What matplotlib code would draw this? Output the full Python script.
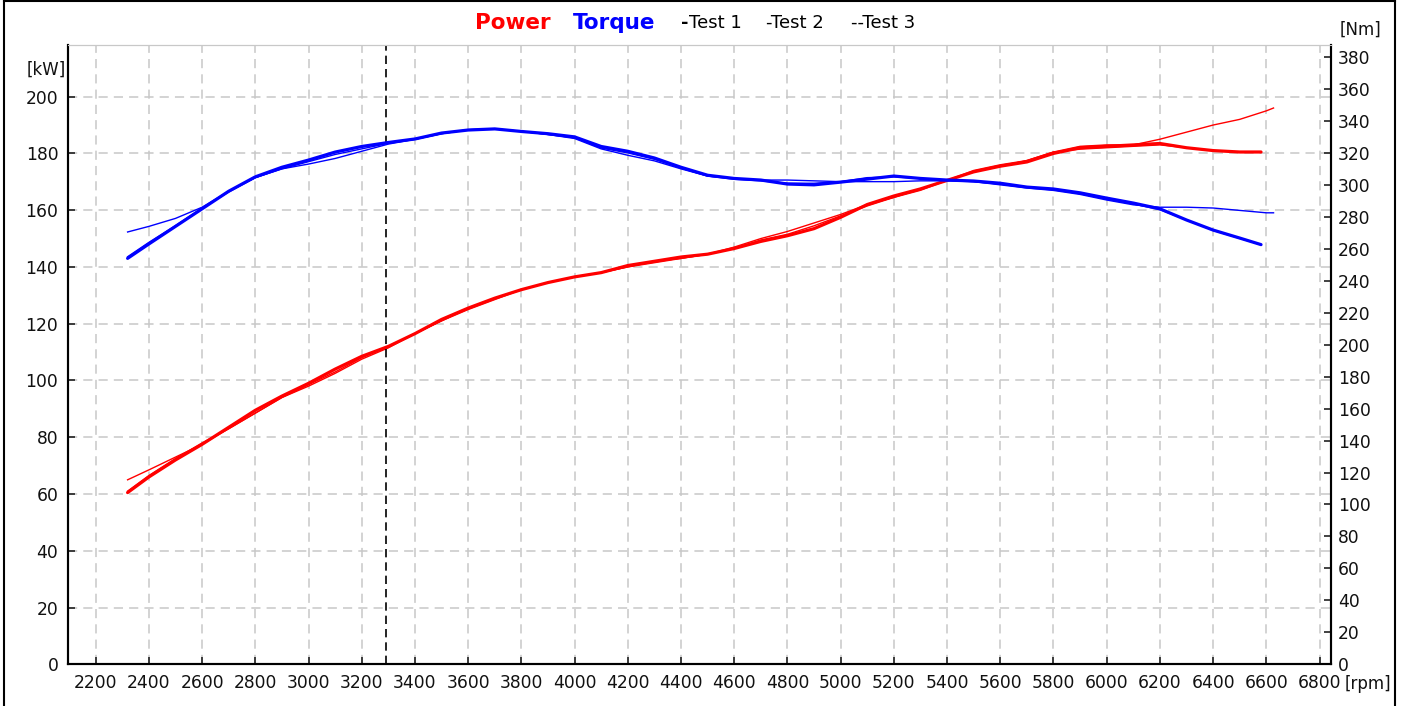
import matplotlib
matplotlib.use("Agg")
import matplotlib.pyplot as plt
from matplotlib.lines import Line2D

# ---------------- data ----------------
rpm_t1 = [2320, 2400, 2500, 2600, 2700, 2800, 2900, 3000, 3100, 3200, 3300, 3400, 3500,
          3600, 3700, 3800, 3900, 4000, 4100, 4200, 4300, 4400, 4500, 4600, 4700, 4800,
          4900, 5000, 5100, 5200, 5300, 5400, 5500, 5600, 5700, 5800, 5900, 6000, 6100,
          6200, 6300, 6400, 6500, 6580]
rpm_t2 = [2320, 2400, 2500, 2600, 2700, 2800, 2900, 3000, 3100, 3200, 3300, 3400, 3500,
          3600, 3700, 3800, 3900, 4000, 4100, 4200, 4300, 4400, 4500, 4600, 4700, 4800,
          4900, 5000, 5100, 5200, 5300, 5400, 5500, 5600, 5700, 5800, 5900, 6000, 6100,
          6200, 6300, 6400, 6500, 6600, 6627]
rpm_t3 = rpm_t1

power_t1 = [60.5, 66, 72, 77.5, 83.5, 89.5, 94.5, 99, 104, 108.5, 112, 116.5, 121.5,
            125.5, 129, 132, 134.5, 136.5, 138, 140.5, 142, 143.5, 144.5, 146.5, 149, 151,
            153.5, 157.5, 162, 165, 167.5, 170.5, 173.5, 175.5, 177, 180, 182, 182.5, 183,
            183.5, 182, 181, 180.5, 180.5]
power_t2 = [65, 68.5, 73, 77.5, 83, 88.5, 94, 98, 102.5, 107.5, 111.5, 116.5, 121,
            125.5, 129, 132, 134.5, 136.5, 138, 140, 141.5, 143, 144.5, 147, 150, 152.5,
            155.5, 158.5, 162, 164.5, 167, 170.5, 174, 176, 177.5, 180.5, 182.5, 183, 183,
            185, 187.5, 190, 192, 195, 196]
power_t3 = [61, 66.5, 72.5, 78, 83, 88.5, 94, 98.5, 103, 108, 112, 116.5, 121,
            125, 128.5, 132, 134.5, 136.5, 138, 140, 142, 143, 144.5, 146.5, 149.5, 151.5,
            154.5, 158, 161.5, 164.5, 167.5, 170.5, 173.5, 175.5, 177.5, 180.5, 181.5, 182, 182.5,
            183, 182, 181, 180.5, 180.5]

torque_t1 = [254, 263, 274, 285, 296, 305, 311, 315.5, 320.5, 324, 326.5, 328.7, 332.4,
             334.3, 335, 333.4, 332, 330, 324, 321, 316.8, 311, 306, 304, 303, 300.5,
             300, 301.7, 303.6, 305.5, 304, 303, 302.4, 301, 298.6, 297.4, 295, 291.7, 288.6,
             285, 278, 271.7, 266.7, 262.6]
torque_t2 = [270.5, 274, 279, 286, 296, 304.5, 310, 313, 316.5, 321, 325.5, 328.5, 332,
             334.5, 335, 333.5, 331.5, 329, 322.5, 318.5, 315, 310, 305.5, 304, 303, 303,
             302.5, 302, 302, 302, 302.5, 302.5, 302, 300, 298, 296.5, 294, 290.5, 287.5,
             286, 286, 285.5, 284, 282.5, 282.5]
torque_t3 = [255, 264, 274.5, 285.5, 295.5, 304.5, 310, 314.5, 319, 322.5, 326, 328.5, 332,
             334.5, 335, 333.5, 331.5, 329.5, 323, 320, 316, 310.5, 305.5, 303.5, 302.5, 301,
             301, 302, 304.5, 305, 304, 303, 302, 300.5, 298.5, 297, 294.5, 291, 288,
             284.5, 278, 271.5, 266.5, 262.5]

x_ticks = list(range(2200, 6801, 200))
kw_ticks = list(range(0, 201, 20))
nm_ticks = list(range(0, 381, 20))
marker_rpm = 3290

# ---------------- figure ----------------
W, H = 1407, 706
fig = plt.figure(figsize=(W / 100, H / 100), dpi=100)
fig.patch.set_facecolor("white")

ax = fig.add_axes([68 / W, 1 - 664.3 / H, (1331 - 68) / W, (664.3 - 45) / H])
ax2 = ax.twinx()

red = "#ff0000"
blue = "#0000ff"

# power (left axis)
ax.plot(rpm_t2, power_t2, color=red, lw=1.0, zorder=3)
ax.plot(rpm_t3, power_t3, color=red, lw=1.0, zorder=3)
ax.plot(rpm_t1, power_t1, color=red, lw=2.3, zorder=4, solid_capstyle="round")
# torque (right axis)
ax2.plot(rpm_t2, torque_t2, color=blue, lw=1.0, zorder=3)
ax2.plot(rpm_t3, torque_t3, color=blue, lw=1.0, zorder=3)
ax2.plot(rpm_t1, torque_t1, color=blue, lw=2.3, zorder=4, solid_capstyle="round")

ax.axvline(marker_rpm, color="black", lw=1.2, ls=(0, (5, 3)), zorder=5)

ax.set_xlim(2096, 6843)
ax.set_ylim(0, 218.2)
ax2.set_ylim(0, 387.5)

ax.set_xticks(x_ticks)
ax.set_yticks(kw_ticks)
ax2.set_yticks(nm_ticks)

ax.grid(True, color="#c8c8c8", lw=1.1, ls=(0, (6, 4)))
ax.set_axisbelow(True)

for a in (ax, ax2):
    a.tick_params(direction="in", length=5, width=1.2, colors="#222222", labelsize=12.3)
    a.spines["top"].set_color("#c8c8c8")
    a.spines["left"].set_linewidth(1.5)
    a.spines["right"].set_linewidth(1.5)
    a.spines["bottom"].set_linewidth(1.5)
ax.tick_params(axis="x", pad=7)
ax.tick_params(axis="y", pad=7)
ax2.tick_params(axis="y", pad=5)
for lab in ax.get_xticklabels() + ax.get_yticklabels() + ax2.get_yticklabels():
    lab.set_color("#111111")

# axis unit labels
fig.text(27 / W, 1 - 70 / H, "[kW]", fontsize=12, va="center", ha="left", color="#111111")
fig.text(1340 / W, 1 - 30 / H, "[Nm]", fontsize=12, va="center", ha="left", color="#111111")
fig.text(1345 / W, 1 - 684 / H, "[rpm]", fontsize=12, va="center", ha="left", color="#111111")

# legend-like header
ly = 1 - 23 / H
fig.text(475 / W, ly, "Power", fontsize=15.5, fontweight="bold", color=red, va="center", ha="left")
fig.text(573 / W, ly, "Torque", fontsize=15.5, fontweight="bold", color=blue, va="center", ha="left")
fig.text(681 / W, ly, "-", fontsize=13, fontweight="bold", color="black", va="center", ha="left")
fig.text(689 / W, ly, "Test 1", fontsize=13, color="black", va="center", ha="left")
fig.text(766 / W, ly, "-Test 2", fontsize=13, color="black", va="center", ha="left")
fig.text(851 / W, ly, "--Test 3", fontsize=13, color="black", va="center", ha="left")

# outer frame
fig.add_artist(Line2D([3.5 / W, 3.5 / W], [0, 1 - 1 / H], transform=fig.transFigure, color="black", lw=1.5))
fig.add_artist(Line2D([3.5 / W, 1394.5 / W], [1 - 1 / H, 1 - 1 / H], transform=fig.transFigure, color="black", lw=1.5))
fig.add_artist(Line2D([1394.5 / W, 1394.5 / W], [0, 1 - 1 / H], transform=fig.transFigure, color="black", lw=1.5))

fig.savefig("out.png", dpi=100, facecolor="white")
